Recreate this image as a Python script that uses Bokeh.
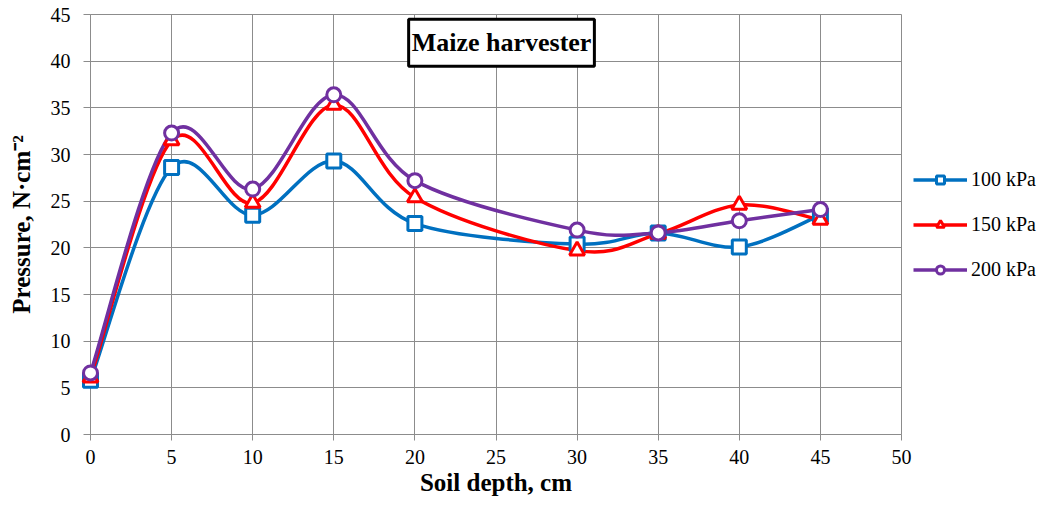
import numpy as np
from bokeh.plotting import figure
from bokeh.models import Label, Legend, LegendItem, Range1d, FixedTicker
from bokeh.embed import file_html
from bokeh.resources import INLINE

# ---- data ----
depth = [0, 5, 10, 15, 20, 30, 35, 40, 45]
p100 = [5.8, 28.6, 23.5, 29.3, 22.6, 20.4, 21.6, 20.1, 23.5]
p150 = [6.1, 31.5, 24.8, 35.3, 25.4, 19.7, 21.5, 24.6, 23.0]
p200 = [6.6, 32.3, 26.3, 36.4, 27.2, 21.9, 21.6, 22.9, 24.1]
series_names = ["100 kPa", "150 kPa", "200 kPa"]
x_ticks = list(range(0, 55, 5))
y_ticks = list(range(0, 50, 5))
title_text = "Maize harvester"
x_title = "Soil depth, cm"
y_title = "Pressure, N·cm⁻²"

FONT = "Liberation Serif"
GRID = "#8c8c8c"


def smooth_segments(x, y, t=1.0 / 6.0):
    """Cubic Bezier control points (Excel-like smoothed line) through the data."""
    x = np.asarray(x, float)
    y = np.asarray(y, float)
    n = len(x)
    out = dict(x0=[], y0=[], x1=[], y1=[], cx0=[], cy0=[], cx1=[], cy1=[])
    for i in range(n - 1):
        a = max(i - 1, 0)
        d = min(i + 2, n - 1)
        out["x0"].append(x[i]); out["y0"].append(y[i])
        out["x1"].append(x[i + 1]); out["y1"].append(y[i + 1])
        out["cx0"].append(x[i] + (x[i + 1] - x[a]) * t)
        out["cy0"].append(y[i] + (y[i + 1] - y[a]) * t)
        out["cx1"].append(x[i + 1] - (x[d] - x[i]) * t)
        out["cy1"].append(y[i + 1] - (y[d] - y[i]) * t)
    return out


p = figure(frame_width=811, frame_height=420, output_backend="svg", toolbar_location=None,
           x_range=Range1d(0, 50), y_range=Range1d(0, 45),
           min_border_left=90, min_border_right=147, min_border_top=14,
           min_border_bottom=67)
p.outline_line_color = GRID
p.outline_line_width = 1

for ax in (p.xaxis[0], p.yaxis[0]):
    ax.axis_line_color = GRID
    ax.major_tick_line_color = GRID
    ax.major_tick_out = 7
    ax.major_tick_in = 0
    ax.minor_tick_line_color = None
    ax.major_label_text_font = FONT
    ax.major_label_text_font_size = "20px"
    ax.major_label_text_color = "black"
    ax.axis_label_text_font = FONT
    ax.axis_label_text_font_style = "bold"
    ax.axis_label_text_font_size = "25px"
    ax.axis_label_text_color = "black"

p.xaxis.major_tick_out = 6
p.xaxis.ticker = FixedTicker(ticks=x_ticks)
p.yaxis.ticker = FixedTicker(ticks=y_ticks)
p.xaxis.axis_label = x_title
p.yaxis.axis_label = y_title
p.xaxis.major_label_standoff = 9
p.yaxis.major_label_standoff = 13
p.xaxis.axis_label_standoff = 2
p.yaxis.axis_label_standoff = 13

p.xgrid.ticker = FixedTicker(ticks=x_ticks)
p.ygrid.ticker = FixedTicker(ticks=y_ticks)
for g in (p.xgrid[0], p.ygrid[0]):
    g.grid_line_color = GRID
    g.grid_line_width = 1

colors = ["#0070C0", "#FF0000", "#7030A0"]
markers = ["square", "triangle", "circle"]
sizes = [14, 15, 14]
items = []
for name, vals, col, mk, sz in zip(series_names, [p100, p150, p200], colors, markers, sizes):
    seg = smooth_segments(depth, vals)
    p.bezier(x0="x0", y0="y0", x1="x1", y1="y1", cx0="cx0", cy0="cy0",
             cx1="cx1", cy1="cy1", source=seg, line_color=col, line_width=3.5)
    lr = p.line(x=depth[:1], y=vals[:1], line_color=col, line_width=3.5)
    sr = p.scatter(x=depth, y=vals, marker=mk, size=sz, line_color=col,
                   line_width=3, fill_color="white", level="overlay")
    items.append(LegendItem(label=name, renderers=[lr, sr]))

legend = Legend(items=items, location="center_left", orientation="vertical")
legend.margin = 12
legend.padding = 0
legend.border_line_color = None
legend.background_fill_alpha = 0
legend.glyph_width = 54
legend.glyph_height = 20
legend.label_height = 20
legend.label_standoff = 4
legend.spacing = 22
legend.label_text_font = FONT
legend.label_text_font_size = "20px"
legend.label_text_color = "black"
p.add_layout(legend, "right")

title = Label(x=25.34, y=41.96, text=title_text, text_align="center",
              text_baseline="middle", text_font=FONT, text_font_style="bold",
              text_font_size="26px", text_color="black",
              border_line_color="black", border_line_width=3,
              background_fill_color="white", padding=(3, 9))
p.add_layout(title)

open("out.html", "w").write(file_html(p, INLINE))
